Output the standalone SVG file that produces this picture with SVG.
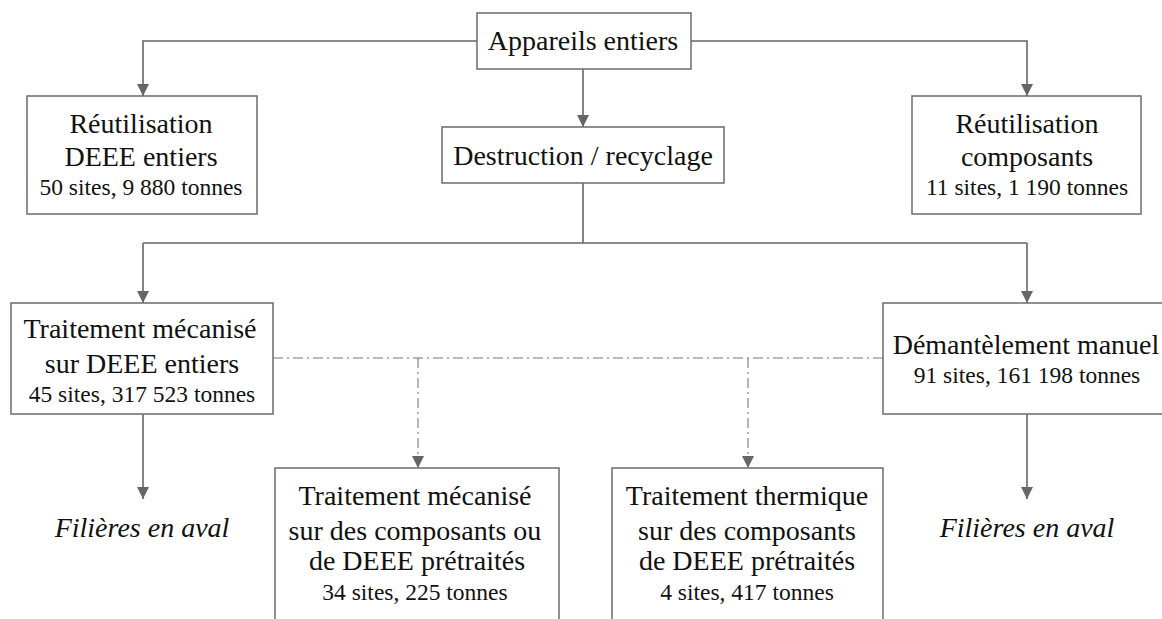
<svg xmlns="http://www.w3.org/2000/svg" width="1162" height="619" viewBox="0 0 1162 619">
<style>
.box{fill:#fff;stroke:#6b6b6b;stroke-width:1.5}
.t{font-family:"Liberation Serif","Times New Roman",serif;font-size:28px;fill:#111;text-anchor:middle}
.s{font-family:"Liberation Serif","Times New Roman",serif;font-size:23.5px;fill:#111;text-anchor:middle}
.i{font-family:"Liberation Serif","Times New Roman",serif;font-size:28px;font-style:italic;fill:#111;text-anchor:middle}
.c{fill:none;stroke:#666;stroke-width:1.6}
.d{fill:none;stroke:#777;stroke-width:1.1;stroke-dasharray:10 4 2 4}
</style>
<defs>
<marker id="ah" viewBox="0 0 12 12" refX="12" refY="6" markerWidth="12" markerHeight="12" markerUnits="userSpaceOnUse" orient="auto">
<path d="M0,0 L12,6 L0,12 z" fill="#666"/>
</marker>
</defs>
<g id="connectors">
<path class="c" d="M477,41 H143 V96" marker-end="url(#ah)"/>
<path class="c" d="M691,41 H1027 V96" marker-end="url(#ah)"/>
<path class="c" d="M583,69 V127" marker-end="url(#ah)"/>
<path class="c" d="M583,183 V243"/>
<path class="c" d="M143,243 H1027"/>
<path class="c" d="M143,243 V303" marker-end="url(#ah)"/>
<path class="c" d="M1027,243 V303" marker-end="url(#ah)"/>
<path class="c" d="M143,414 V499" marker-end="url(#ah)"/>
<path class="c" d="M1027,414 V499" marker-end="url(#ah)"/>
<path class="d" d="M273,358 H883"/>
<path class="d" d="M418,358 V468" marker-end="url(#ah)"/>
<path class="d" d="M748,358 V468" marker-end="url(#ah)"/>
</g>
<g id="appareils">
<rect class="box" x="477" y="13" width="214" height="56"/>
<text class="t" x="583" y="50">Appareils entiers</text>
</g>
<g id="reutil-deee">
<rect class="box" x="27" y="96" width="230" height="118"/>
<text class="t" x="141" y="133">Réutilisation</text>
<text class="t" x="141" y="166">DEEE entiers</text>
<text class="s" x="141" y="195">50 sites, 9 880 tonnes</text>
</g>
<g id="destruction">
<rect class="box" x="442" y="127" width="282" height="56"/>
<text class="t" x="583" y="165">Destruction / recyclage</text>
</g>
<g id="reutil-comp">
<rect class="box" x="912" y="96" width="229" height="118"/>
<text class="t" x="1027" y="133">Réutilisation</text>
<text class="t" x="1027" y="166">composants</text>
<text class="s" x="1027" y="195">11 sites, 1 190 tonnes</text>
</g>
<g id="trait-meca">
<rect class="box" x="11" y="303" width="262" height="111"/>
<text class="t" x="140" y="338">Traitement mécanisé</text>
<text class="t" x="142" y="373">sur DEEE entiers</text>
<text class="s" x="142" y="402">45 sites, 317 523 tonnes</text>
</g>
<g id="demantelement">
<rect class="box" x="883" y="303" width="280" height="111"/>
<text class="t" x="1026" y="354">Démantèlement manuel</text>
<text class="s" x="1027" y="383">91 sites, 161 198 tonnes</text>
</g>
<g id="filieres-left">
<text class="i" x="142" y="537">Filières en aval</text>
</g>
<g id="filieres-right">
<text class="i" x="1027" y="537">Filières en aval</text>
</g>
<g id="trait-meca-comp">
<rect class="box" x="275" y="468" width="284" height="160"/>
<text class="t" x="415" y="505">Traitement mécanisé</text>
<text class="t" x="415" y="540">sur des composants ou</text>
<text class="t" x="417" y="570">de DEEE prétraités</text>
<text class="s" x="415" y="600">34 sites, 225 tonnes</text>
</g>
<g id="trait-therm">
<rect class="box" x="612" y="468" width="271" height="160"/>
<text class="t" x="747" y="505">Traitement thermique</text>
<text class="t" x="747" y="540">sur des composants</text>
<text class="t" x="747" y="570">de DEEE prétraités</text>
<text class="s" x="747" y="600">4 sites, 417 tonnes</text>
</g>
</svg>
